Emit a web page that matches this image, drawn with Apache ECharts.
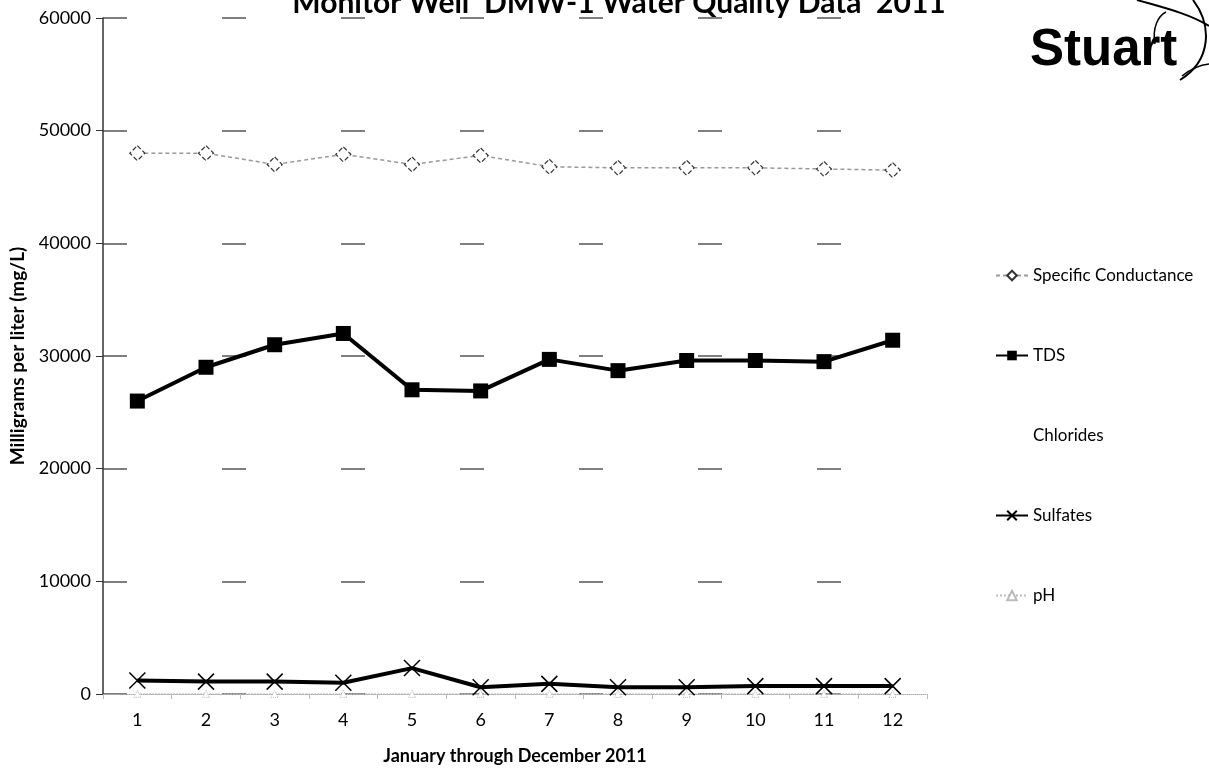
<!DOCTYPE html>
<html>
<head>
<meta charset="utf-8">
<script src="https://cdn.jsdelivr.net/npm/echarts@6/dist/echarts.min.js"></script>
<style>
  html, body { margin: 0; padding: 0; background: #fff; }
  #chart { width: 1209px; height: 769px; }
</style>
</head>
<body>
<div id="chart"></div>
<script>
let myChart = echarts.init(document.getElementById('chart'));

const months = ['1', '2', '3', '4', '5', '6', '7', '8', '9', '10', '11', '12'];
const yTicks = [0, 10000, 20000, 30000, 40000, 50000, 60000];

const specificConductance = [48000, 48000, 47000, 47900, 47000, 47800, 46800, 46700, 46700, 46700, 46600, 46500];
const tds = [26000, 29000, 31000, 32000, 27000, 26900, 29700, 28700, 29600, 29600, 29500, 31400];
const chlorides = [null, null, null, null, null, null, null, null, null, null, null, null];
const sulfates = [1200, 1100, 1100, 1000, 2300, 600, 900, 600, 600, 700, 700, 700];
const ph = [7, 7, 7, 7, 7, 7, 7, 7, 7, 7, 7, 7];

const font = 'Lato, "Open Sans", sans-serif';
const crossPath = 'path://M0,0L10,10M10,0L0,10';

let option = {
    backgroundColor: '#fff',
    textStyle: { fontFamily: font },
    title: {
        text: 'Monitor Well  DMW-1 Water Quality Data  2011',
        left: 614,
        textAlign: 'center',
        top: -17,
        textStyle: { fontSize: 30, fontWeight: 'bold', color: '#000', fontFamily: font }
    },
    legend: {
        orient: 'vertical',
        left: 990,
        top: 262,
        itemGap: 63,
        itemWidth: 32,
        itemHeight: 12,
        textStyle: { fontSize: 17, color: '#000', fontFamily: font },
        data: ['Specific Conductance', 'TDS', 'Chlorides', 'Sulfates', 'pH']
    },
    grid: { left: 103, right: 282, top: 18, bottom: 75, outerBoundsMode: 'none' },
    xAxis: {
        type: 'category',
        data: months,
        boundaryGap: true,
        name: 'January through December 2011',
        nameLocation: 'middle',
        nameGap: 53,
        nameTextStyle: { fontSize: 18, fontWeight: 'bold', color: '#000' },
        axisLine: { lineStyle: { color: '#aaa', type: 'dotted', width: 1 } },
        axisTick: { show: true, length: 5, lineStyle: { color: '#bbb' } },
        axisLabel: { fontSize: 18, color: '#000', margin: 17 }
    },
    yAxis: {
        type: 'value',
        min: yTicks[0],
        max: yTicks[yTicks.length - 1],
        interval: 10000,
        name: 'Milligrams per liter (mg/L)',
        nameLocation: 'middle',
        nameGap: 76,
        nameTextStyle: { fontSize: 19, fontWeight: 'bold', color: '#000' },
        axisLine: { show: true, lineStyle: { color: '#333', width: 1.5 } },
        axisTick: { show: true, length: 7, lineStyle: { color: '#333' } },
        axisLabel: { fontSize: 18, color: '#000', margin: 12, formatter: v => String(v) },
        splitLine: { show: true, lineStyle: { color: '#555', width: 1.5, type: [24, 95] } }
    },
    series: [
        {
            name: 'Specific Conductance',
            type: 'line',
            data: specificConductance,
            symbol: 'diamond',
            symbolSize: 15,
            itemStyle: { color: '#fff', borderColor: '#333', borderWidth: 1.2, borderType: 'dashed' },
            lineStyle: { color: '#999', width: 1.5, type: [4, 3] }
        },
        {
            name: 'TDS',
            type: 'line',
            data: tds,
            symbol: 'rect',
            symbolSize: 15,
            itemStyle: { color: '#000' },
            lineStyle: { color: '#000', width: 4 }
        },
        {
            name: 'Chlorides',
            type: 'line',
            data: chlorides,
            symbol: 'none',
            itemStyle: { color: 'rgba(255,255,255,0)' },
            lineStyle: { color: 'rgba(255,255,255,0)', width: 0 }
        },
        {
            name: 'Sulfates',
            type: 'line',
            data: sulfates,
            symbol: crossPath,
            symbolSize: 16,
            itemStyle: { color: 'rgba(0,0,0,0)', borderColor: '#000', borderWidth: 1.5 },
            lineStyle: { color: '#000', width: 4 }
        },
        {
            name: 'pH',
            type: 'line',
            data: ph,
            symbol: 'triangle',
            symbolSize: 7,
            itemStyle: { color: '#fff', borderColor: '#bbb', borderWidth: 1, borderType: 'dotted' },
            lineStyle: { color: '#bbb', width: 1.5, type: 'dotted' },
            z: 1
        }
    ],
    graphic: [
        {
            type: 'text',
            left: 1030,
            top: 25,
            style: { text: 'Stuart', fontSize: 51, fontWeight: 'bold', fill: '#000', fontFamily: '"Liberation Sans", Arial, sans-serif' }
        },
        {
            type: 'bezierCurve',
            shape: { x1: 1137, y1: 0, x2: 1209, y2: 26, cpx1: 1165, cpy1: 8, cpx2: 1190, cpy2: 14 },
            style: { stroke: '#000', lineWidth: 2, fill: null }
        },
        {
            type: 'bezierCurve',
            shape: { x1: 1193, y1: 0, x2: 1180, y2: 80, cpx1: 1212, cpy1: 25, cpx2: 1212, cpy2: 60 },
            style: { stroke: '#000', lineWidth: 2, fill: null }
        },
        {
            type: 'bezierCurve',
            shape: { x1: 1155, y1: 44, x2: 1166, y2: 12, cpx1: 1152, cpy1: 28, cpx2: 1158, cpy2: 16 },
            style: { stroke: '#000', lineWidth: 1.5, fill: null }
        },
        {
            type: 'bezierCurve',
            shape: { x1: 1182, y1: 76, x2: 1209, y2: 64, cpx1: 1192, cpy1: 68, cpx2: 1200, cpy2: 65 },
            style: { stroke: '#000', lineWidth: 1.5, fill: null }
        }
    ]
};

myChart.setOption(option);
</script>
</body>
</html>
